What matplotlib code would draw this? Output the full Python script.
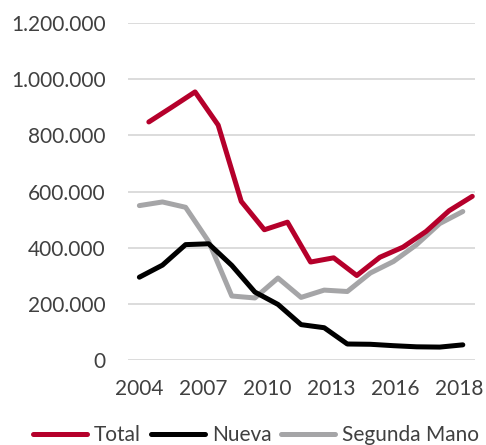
import numpy as np
import matplotlib.pyplot as plt
from matplotlib.ticker import FuncFormatter

plt.rcParams['font.family'] = ['Lato', 'DejaVu Sans']

years = np.arange(2004, 2019)
total = [848, 901, 955, 837, 565, 464, 491, 349, 364, 301, 366, 402, 458, 532, 583]
nueva = [295, 338, 411, 414, 337, 242, 198, 126, 115, 57, 56, 51, 47, 46, 54]
segunda = [550, 563, 544, 422, 228, 221, 292, 223, 249, 244, 310, 351, 411, 486, 529]
tick_labels = ['2004', '2007', '2010', '2013', '2016', '2018']

total = np.array(total) * 1000
nueva = np.array(nueva) * 1000
segunda = np.array(segunda) * 1000

fig = plt.figure(figsize=(4.86, 4.45), dpi=100)
ax = fig.add_axes([0.263, 0.191, 0.714, 0.757])

# la serie total aparece desplazada en el original
ax.plot(years + 0.41, total, color='#B5002B', lw=3.6, solid_capstyle='round', solid_joinstyle='round', label='Total', zorder=3)
ax.plot(years, nueva, color='#000000', lw=3.6, solid_capstyle='round', solid_joinstyle='round', label='Nueva', zorder=3)
ax.plot(years, segunda, color='#A5A5A7', lw=3.6, solid_capstyle='round', solid_joinstyle='round', label='Segunda Mano', zorder=2)

ax.set_xlim(2003.5, 2018.52)
ax.set_ylim(0, 1200000)
ax.set_yticks(np.arange(0, 1200001, 200000))
ax.yaxis.set_major_formatter(FuncFormatter(lambda v, p: f'{int(v):,}'.replace(',', '.')))
ax.set_xticks(np.linspace(2004, 2017.85, 6))
ax.set_xticklabels(tick_labels)

ax.grid(axis='y', color='#D9D9D9', lw=1.3)
ax.set_axisbelow(True)
for s in ax.spines.values():
    s.set_visible(False)
ax.tick_params(length=0, labelsize=15, labelcolor='#404040')
ax.tick_params(axis='y', pad=16)
ax.tick_params(axis='x', pad=14)

fig.legend(loc='center', bbox_to_anchor=(0.527, 0.022), ncol=3, frameon=False,
           fontsize=15, handlelength=2.6, handletextpad=0.35, columnspacing=0.45,
           labelcolor='#404040')

fig.savefig('out.png', dpi=100)
